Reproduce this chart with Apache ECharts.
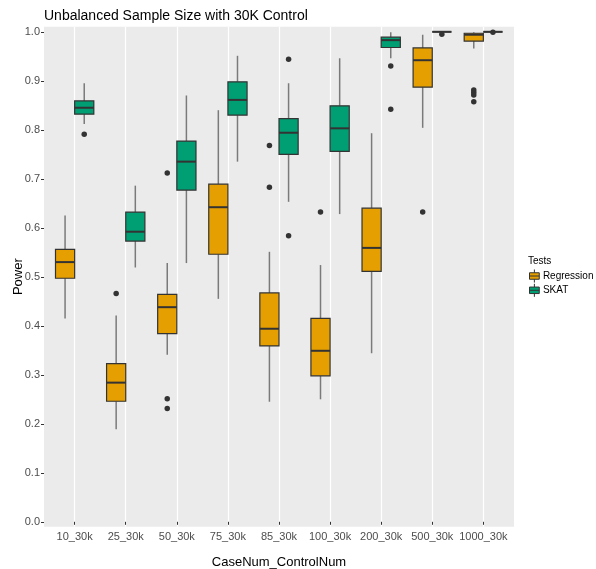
<!DOCTYPE html>
<html>
<head>
<meta charset="utf-8">
<script src="https://cdn.jsdelivr.net/npm/echarts@6/dist/echarts.min.js"></script>
<style>html,body{margin:0;padding:0;background:#fff;}#chart{width:596px;height:569px;}</style>
</head>
<body>
<div id="chart"></div>
<script>
const categories = ['10_30k','25_30k','50_30k','75_30k','85_30k','100_30k','200_30k','500_30k','1000_30k'];
const yTicks = [0, 0.1, 0.2, 0.3, 0.4, 0.5, 0.6, 0.7, 0.8, 0.9, 1.0];

// Regression box statistics
const regLow    = [0.415, 0.189, 0.341, 0.455, 0.245, 0.250, 0.344, 0.804, 0.966];
const regQ1     = [0.497, 0.246, 0.384, 0.546, 0.359, 0.298, 0.511, 0.887, 0.981];
const regMedian = [0.530, 0.284, 0.438, 0.642, 0.394, 0.349, 0.559, 0.942, 0.994];
const regQ3     = [0.556, 0.323, 0.464, 0.689, 0.467, 0.415, 0.640, 0.967, 0.997];
const regHigh   = [0.625, 0.421, 0.528, 0.840, 0.551, 0.524, 0.793, 0.994, 0.999];
const regOutliers = [[], [0.466], [0.712, 0.251, 0.231], [], [0.768, 0.683], [0.632], [], [0.632], [0.881, 0.876, 0.871, 0.857]];

// SKAT box statistics
const skatLow    = [0.812, 0.519, 0.528, 0.735, 0.653, 0.628, 0.946, 1.0, 1.0];
const skatQ1     = [0.832, 0.573, 0.677, 0.830, 0.750, 0.756, 0.968, 1.0, 1.0];
const skatMedian = [0.845, 0.592, 0.735, 0.861, 0.794, 0.803, 0.983, 1.0, 1.0];
const skatQ3     = [0.859, 0.632, 0.777, 0.898, 0.823, 0.849, 0.989, 1.0, 1.0];
const skatHigh   = [0.895, 0.686, 0.870, 0.951, 0.895, 0.946, 0.999, 1.0, 1.0];
const skatOutliers = [[0.791], [], [], [], [0.944, 0.584], [], [0.930, 0.842], [0.995], [0.999]];

const DODGE = 0.1875;   // half of dodge spacing (0.75 / 4)
const HALF = 0.1875;    // half box width

function boxData(low, q1, med, q3, high) {
  return categories.map((c, i) => [i + 1, low[i], q1[i], med[i], q3[i], high[i]]);
}
function outlierData(list, offset) {
  const out = [];
  list.forEach((vals, i) => vals.forEach(v => out.push([i + 1 + offset, v])));
  return out;
}
function makeRenderItem(offset) {
  return function (params, api) {
    const x = api.value(0) + offset;
    const lo = api.value(1), q1 = api.value(2), med = api.value(3), q3 = api.value(4), hi = api.value(5);
    const tl = api.coord([x - HALF, q3]);
    const br = api.coord([x + HALF, q1]);
    const pLo = api.coord([x, lo]), pQ1 = api.coord([x, q1]), pQ3 = api.coord([x, q3]), pHi = api.coord([x, hi]);
    const mL = api.coord([x - HALF, med]), mR = api.coord([x + HALF, med]);
    const whisker = { stroke: '#7a7a7a', lineWidth: 1.5 };
    return {
      type: 'group',
      children: [
        { type: 'line', shape: { x1: pHi[0], y1: pHi[1], x2: pQ3[0], y2: pQ3[1] }, style: whisker },
        { type: 'line', shape: { x1: pQ1[0], y1: pQ1[1], x2: pLo[0], y2: pLo[1] }, style: whisker },
        { type: 'rect', shape: { x: tl[0], y: tl[1], width: br[0] - tl[0], height: br[1] - tl[1] },
          style: { fill: api.visual('color'), stroke: '#333333', lineWidth: 1.2 } },
        { type: 'line', shape: { x1: mL[0], y1: mL[1], x2: mR[0], y2: mR[1] }, style: { stroke: '#333333', lineWidth: 2 } }
      ]
    };
  };
}

const chart = echarts.init(document.getElementById('chart'), null, { renderer: 'canvas' });
const font = 'Liberation Sans, Arial, Helvetica, sans-serif';
const legendIcon = 'path://M1,4 L13,4 L13,12 L1,12 Z M1,8 L13,8 M7,0 L7,4 M7,12 L7,16';

chart.setOption({
  animation: false,
  textStyle: { fontFamily: font },
  title: [
    { text: 'Unbalanced Sample Size with 30K Control', left: 39, top: 4,
      textStyle: { fontSize: 14, fontWeight: 'normal', color: '#000', fontFamily: font } },
    { text: 'Tests', left: 523, top: 251,
      textStyle: { fontSize: 10, fontWeight: 'normal', color: '#000', fontFamily: font } }
  ],
  legend: {
    data: ['Regression', 'SKAT'],
    orient: 'vertical', left: 524, top: 264,
    icon: legendIcon, itemWidth: 13, itemHeight: 13, itemGap: 0.3,
    textStyle: { fontSize: 10, color: '#000', fontFamily: font, padding: [0, 0, 0, -3] },
    itemStyle: { borderColor: '#333333', borderWidth: 1 }
  },
  grid: { left: 44, right: 82, top: 26.7, bottom: 42.3, show: true, backgroundColor: '#ebebeb', borderWidth: 0,
    outerBoundsMode: 'none', containLabel: false },
  xAxis: {
    type: 'value', min: 0.4, max: 9.6,
    name: 'CaseNum_ControlNum', nameLocation: 'middle', nameGap: 29, nameMoveOverlap: false,
    nameTextStyle: { fontSize: 13, color: '#000', fontFamily: font },
    axisLine: { show: false },
    axisTick: { show: true, length: 3, lineStyle: { color: '#333', width: 1 }, customValues: categories.map((c, i) => i + 1) },
    axisLabel: { color: '#4d4d4d', fontSize: 11, margin: 5, fontFamily: font,
      customValues: categories.map((c, i) => i + 1), formatter: v => categories[Math.round(v) - 1] },
    splitLine: { show: true, lineStyle: { color: '#ffffff', width: 1.2 } }
  },
  yAxis: {
    type: 'value', min: -0.01, max: 1.0104,
    name: 'Power', nameLocation: 'middle', nameGap: 19, nameMoveOverlap: false,
    nameTextStyle: { fontSize: 13, color: '#000', fontFamily: font },
    axisLine: { show: false },
    axisTick: { show: true, length: 3, lineStyle: { color: '#333', width: 1 }, customValues: yTicks },
    axisLabel: { color: '#4d4d4d', fontSize: 11, margin: 4, fontFamily: font,
      customValues: yTicks, formatter: v => v.toFixed(1) },
    splitLine: { show: false }
  },
  series: [
    { name: 'Regression', type: 'custom', renderItem: makeRenderItem(-DODGE),
      itemStyle: { color: '#E69F00' }, data: boxData(regLow, regQ1, regMedian, regQ3, regHigh),
      encode: { x: 0, y: [1, 2, 3, 4, 5] }, z: 3 },
    { name: 'SKAT', type: 'custom', renderItem: makeRenderItem(DODGE),
      itemStyle: { color: '#009E73' }, data: boxData(skatLow, skatQ1, skatMedian, skatQ3, skatHigh),
      encode: { x: 0, y: [1, 2, 3, 4, 5] }, z: 3 },
    { name: 'Regression outliers', type: 'scatter', symbolSize: 5.5, itemStyle: { color: '#333333', opacity: 1 },
      data: outlierData(regOutliers, -DODGE), z: 4 },
    { name: 'SKAT outliers', type: 'scatter', symbolSize: 5.5, itemStyle: { color: '#333333', opacity: 1 },
      data: outlierData(skatOutliers, DODGE), z: 4 }
  ]
});
</script>
</body>
</html>
